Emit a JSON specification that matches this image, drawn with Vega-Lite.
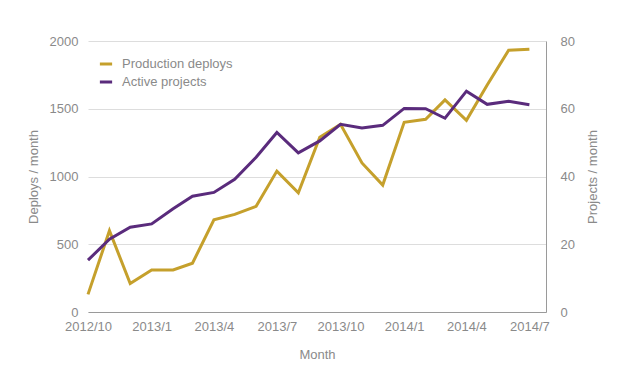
{
  "$schema": "https://vega.github.io/schema/vega-lite/v6.json",
  "width": 458,
  "height": 271,
  "autosize": "none",
  "padding": {"left": 88, "top": 41, "right": 74, "bottom": 60},
  "background": "white",
  "config": {
    "view": {"stroke": null},
    "font": "Liberation Sans",
    "axis": {"labelColor": "#8a8a8a", "titleColor": "#8a8a8a", "labelFontSize": 13, "titleFontSize": 13, "titleFontWeight": "normal", "ticks": false, "domainColor": "#9a9a9a", "gridColor": "#dddddd"}
  },
  "data": {"values": [
    {"month": "2012-10-01", "deploys": 130, "projects": 15.3},
    {"month": "2012-11-01", "deploys": 600, "projects": 21.5},
    {"month": "2012-12-01", "deploys": 210, "projects": 25},
    {"month": "2013-01-01", "deploys": 310, "projects": 26},
    {"month": "2013-02-01", "deploys": 310, "projects": 30.5},
    {"month": "2013-03-01", "deploys": 360, "projects": 34.2},
    {"month": "2013-04-01", "deploys": 680, "projects": 35.3},
    {"month": "2013-05-01", "deploys": 720, "projects": 39.2},
    {"month": "2013-06-01", "deploys": 780, "projects": 45.7},
    {"month": "2013-07-01", "deploys": 1040, "projects": 53},
    {"month": "2013-08-01", "deploys": 880, "projects": 47},
    {"month": "2013-09-01", "deploys": 1290, "projects": 50.5},
    {"month": "2013-10-01", "deploys": 1385, "projects": 55.4},
    {"month": "2013-11-01", "deploys": 1100, "projects": 54.3},
    {"month": "2013-12-01", "deploys": 937, "projects": 55.1},
    {"month": "2014-01-01", "deploys": 1400, "projects": 60.1},
    {"month": "2014-02-01", "deploys": 1422, "projects": 60},
    {"month": "2014-03-01", "deploys": 1565, "projects": 57.2},
    {"month": "2014-04-01", "deploys": 1415, "projects": 65.2},
    {"month": "2014-05-01", "deploys": 1675, "projects": 61.3},
    {"month": "2014-06-01", "deploys": 1932, "projects": 62.2},
    {"month": "2014-07-01", "deploys": 1940, "projects": 61.2}
  ]},
  "encoding": {
    "x": {
      "field": "month", "type": "temporal", "title": "Month",
      "scale": {"type": "utc", "domain": [{"year": 2012, "month": 10, "date": 1, "utc": true}, {"year": 2014, "month": 7, "date": 25, "utc": true}], "nice": false},
      "axis": {"format": "%Y/%-m", "tickCount": {"interval": "month", "step": 3}, "grid": false, "labelPadding": 8, "titleY": 36, "labelOverlap": false, "labelFlush": false}
    }
  },
  "layer": [
    {
      "mark": {"type": "line", "strokeWidth": 3, "strokeJoin": "miter", "strokeCap": "butt"},
      "encoding": {
        "y": {"field": "deploys", "type": "quantitative", "title": "Deploys / month", "scale": {"domain": [0, 2000], "nice": false}, "axis": {"values": [0, 500, 1000, 1500, 2000], "format": "d", "domain": false, "labelPadding": 10, "titleX": -55, "titleAngle": -90, "titleBaseline": "middle", "titleAnchor": "middle"}},
        "color": {"datum": "Production deploys", "type": "nominal", "scale": {"domain": ["Production deploys", "Active projects"], "range": ["#c5a02c", "#5a2b7c"]}, "legend": {"orient": "none", "legendX": 10, "legendY": 15, "title": null, "symbolType": "stroke", "symbolStrokeWidth": 3, "symbolSize": 150, "labelFontSize": 13, "labelColor": "#8a8a8a", "rowPadding": 3, "padding": 0, "labelOffset": 8}}
      }
    },
    {
      "mark": {"type": "line", "strokeWidth": 3, "strokeJoin": "miter", "strokeCap": "butt"},
      "encoding": {
        "y": {"field": "projects", "type": "quantitative", "title": "Projects / month", "scale": {"domain": [0, 80], "nice": false}, "axis": {"orient": "right", "values": [0, 20, 40, 60, 80], "grid": false, "domain": true, "labelPadding": 14, "titleX": 46, "titleAngle": -90, "titleBaseline": "middle", "titleAnchor": "middle"}},
        "color": {"datum": "Active projects", "type": "nominal"}
      }
    }
  ],
  "resolve": {"scale": {"y": "independent"}}
}
